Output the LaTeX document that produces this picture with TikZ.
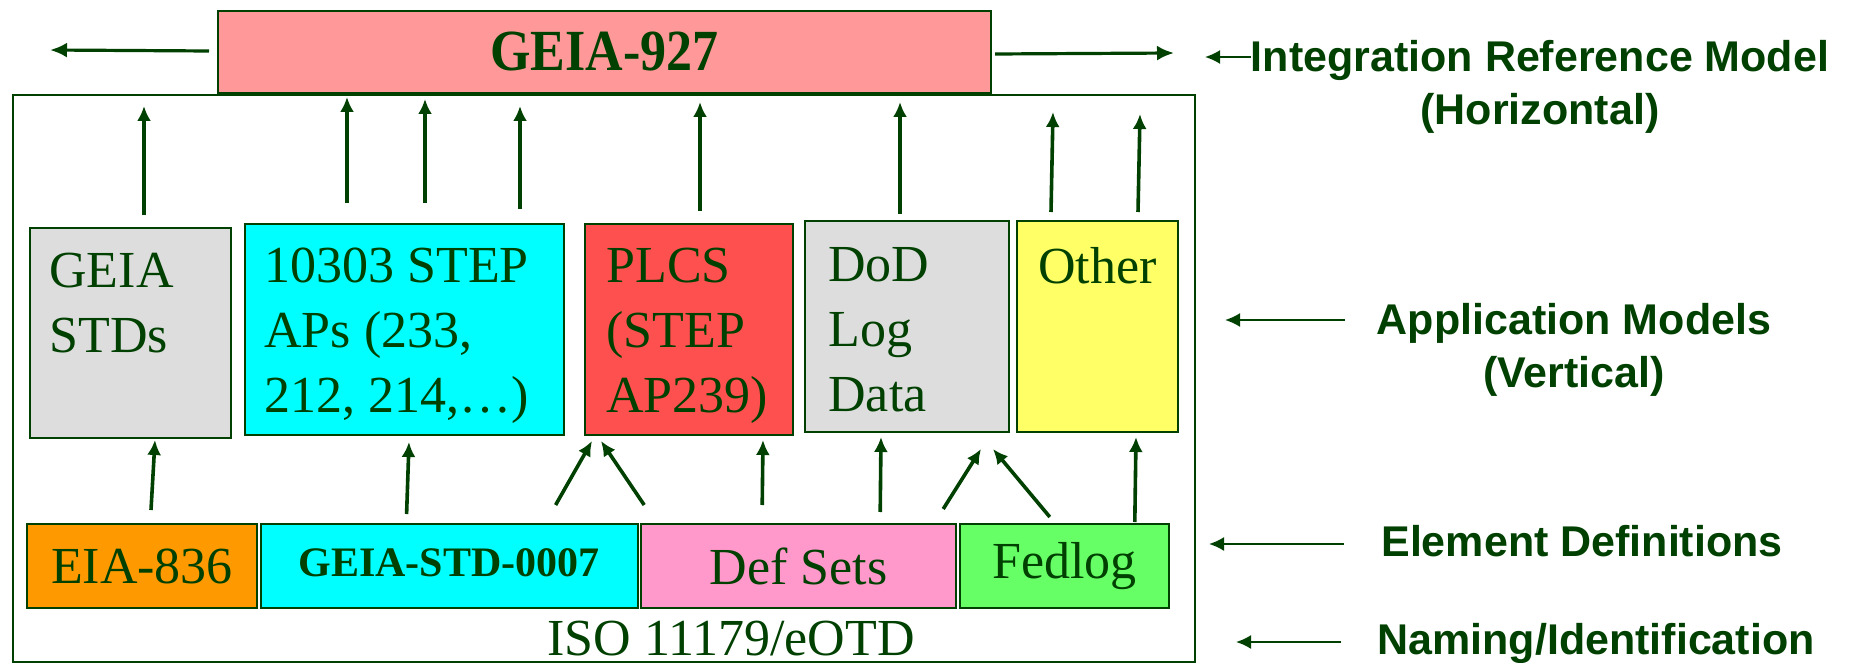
\documentclass[tikz,border=0pt]{standalone}
\usepackage{graphicx}
\usepackage{fontspec}
\setmainfont{Liberation Serif}
\newfontfamily\sidefont{Liberation Sans}
\usetikzlibrary{arrows.meta,positioning,calc}

\definecolor{dkgreen}{RGB}{0,64,0}
\definecolor{rosebox}{HTML}{FF9999}
\definecolor{greybox}{HTML}{DDDDDD}
\definecolor{cyanbox}{HTML}{00FFFF}
\definecolor{redbox}{HTML}{FF5050}
\definecolor{yellowbox}{HTML}{FFFF66}
\definecolor{orangebox}{HTML}{FF9900}
\definecolor{pinkbox}{HTML}{FF99CC}
\definecolor{greenbox}{HTML}{66FF66}

\begin{document}
\begin{tikzpicture}[x=0.5pt,y=-0.5pt,color=dkgreen,
  app box/.style={draw=dkgreen,line width=1pt,anchor=north west,inner sep=0pt,minimum height=105.5pt},
  def box/.style={draw=dkgreen,line width=1pt,minimum height=42pt,inner sep=0pt,font=\fontsize{26}{30}\selectfont},
  box text/.style={inner sep=0pt,align=left,font=\fontsize{26}{32.5}\selectfont},
  side text/.style={inner sep=0pt,align=center,font=\sidefont\bfseries\fontsize{21.5}{26.5}\selectfont},
  uparrow/.style={line width=1.8pt,-{Latex[length=7.5pt,width=7pt]}},
  wide arrow/.style={line width=1.6pt,-{Latex[length=8.5pt,width=7.5pt]}},
  side arrow/.style={line width=1pt,-{Latex[length=7.5pt,width=7pt]}}]

  \useasboundingbox (0,0) rectangle (1850,663);

  % ISO 11179 layer
  \node[draw=dkgreen,line width=0.8pt,anchor=north west,inner sep=0pt,
    minimum width=591pt,minimum height=283.5pt] (frame) at (12,94) {};
  \node[anchor=base,inner sep=0pt,font=\fontsize{26}{30}\selectfont] (isolabel) at (731,655) {ISO 11179/eOTD};

  % integration model
  \node[draw=dkgreen,line width=1pt,fill=rosebox,anchor=north west,inner sep=0pt,
    minimum width=386.5pt,minimum height=41pt,font=\bfseries\fontsize{26}{30}\selectfont]
    (geia) at (217,10) {\scalebox{1}[1.12]{GEIA-927}};

  % application models
  \node[app box,fill=greybox,minimum width=100.5pt,minimum height=105pt] (stds) at (29,227) {};
  \node[app box,fill=cyanbox,minimum width=159.5pt] (step) at (244,223) {};
  \node[app box,fill=redbox,minimum width=104pt] (plcs) at (584,223) {};
  \node[app box,fill=greybox,minimum width=102pt] (dod) at (804,220) {};
  \node[app box,fill=yellowbox,minimum width=80.5pt] (other) at (1016,220) {};

  \node[box text,anchor=north west] (stdstext) at ($(stds.north west)+(20,26)$) {GEIA\\STDs};
  \node[box text,anchor=north west] (steptext) at ($(step.north west)+(20,25)$) {10303 STEP\\APs (233,\\212, 214,\ldots)};
  \node[box text,anchor=north west] (plcstext) at ($(plcs.north west)+(22,25)$) {PLCS\\(STEP\\AP239)};
  \node[box text,anchor=north west] (dodtext) at ($(dod.north west)+(24,27)$) {DoD\\Log\\Data};
  \node[box text,anchor=north] (othertext) at ($(other.north)+(0,27)$) {Other};

  % element definitions
  \node[def box,fill=orangebox,anchor=north west,minimum width=115pt] (eia) at (26,523) {EIA-836};
  \node[def box,fill=cyanbox,minimum width=188.5pt,right=0.8pt of eia,
    font=\bfseries\fontsize{21}{25}\selectfont] (geiastd) {\raisebox{3pt}{GEIA-STD-0007}};
  \node[def box,fill=pinkbox,minimum width=157.5pt,right=0.8pt of geiastd] (defsets) {Def Sets};
  \node[def box,fill=greenbox,minimum width=104.5pt,right=0.8pt of defsets] (fedlog) {Fedlog\hspace{14pt}};

  % up into GEIA-927
  \draw[uparrow] ($(stds.north west)+(115,-12)$) -- ($(geia.south west)+(-73,12)$);
  \draw[uparrow] ($(step.north west)+(103,-20)$) -- ($(geia.south west)+(130,3)$);
  \draw[uparrow] ($(step.north west)+(181,-20)$) -- ($(geia.south west)+(208,5)$);
  \draw[uparrow] ($(step.north west)+(276,-14)$) -- ($(geia.south west)+(303,12)$);
  \draw[uparrow] ($(plcs.north west)+(116,-12)$) -- ($(geia.south west)+(483,8)$);
  \draw[uparrow] ($(dod.north west)+(96,-6)$) -- ($(geia.south west)+(683,8)$);
  \draw[uparrow] ($(other.north west)+(35,-8)$) -- ($(geia.south east)+(61,18)$);
  \draw[uparrow] ($(other.north west)+(122,-8)$) -- ($(geia.south east)+(148,20)$);

  % up into the application models
  \draw[uparrow] ($(eia.north west)+(125,-13)$) -- ($(stds.south west)+(126,1)$);
  \draw[uparrow] ($(geiastd.north west)+(147,-9)$) -- ($(step.south west)+(165,6)$);
  \draw[uparrow] ($(geiastd.north west)+(296,-18)$) -- ($(plcs.south west)+(8,5)$);
  \draw[uparrow] ($(defsets.north west)+(4,-18)$) -- ($(plcs.south west)+(17,5)$);
  \draw[uparrow] ($(defsets.north west)+(122,-18)$) -- ($(plcs.south west)+(179,4)$);
  \draw[uparrow] ($(defsets.north west)+(240,-11)$) -- ($(dod.south west)+(77,4)$);
  \draw[uparrow] ($(defsets.north west)+(303,-14)$) -- ($(dod.south west)+(177,16)$);
  \draw[uparrow] ($(fedlog.north west)+(91,-6)$) -- ($(dod.south west)+(189,16)$);
  \draw[uparrow] ($(fedlog.north west)+(176,-1)$) -- ($(other.south west)+(120,4)$);

  % sideways out of GEIA-927
  \coordinate (leftend) at (50,50);
  \coordinate (rightend) at (1174,53);
  \draw[wide arrow] ($(geia.west)+(-8,-1)$) -- (leftend);
  \draw[wide arrow] ($(geia.east)+(3,2)$) -- (rightend);

  % layer labels
  \node[side text,anchor=north] (irm) at (1540,40) {Integration Reference Model\\(Horizontal)};
  \node[side text,anchor=north] (am) at (1574,303) {Application Models\\(Vertical)};
  \node[side text,anchor=base] (ed) at (1582,556) {Element Definitions};
  \node[side text,anchor=base] (ni) at (1596,654) {Naming/Identification};

  \coordinate (irmtip) at (1205,57);
  \coordinate (amtail) at (1345,320);
  \coordinate (amtip) at (1225,320);
  \coordinate (edtail) at (1344,544);
  \coordinate (edtip) at (1209,544);
  \coordinate (nitail) at (1341,642);
  \coordinate (nitip) at (1236,642);
  \draw[side arrow] (irm.west |- irmtip) -- (irmtip);
  \draw[side arrow] (amtail) -- (amtip);
  \draw[side arrow] (edtail) -- (edtip);
  \draw[side arrow] (nitail) -- (nitip);

\end{tikzpicture}
\end{document}
